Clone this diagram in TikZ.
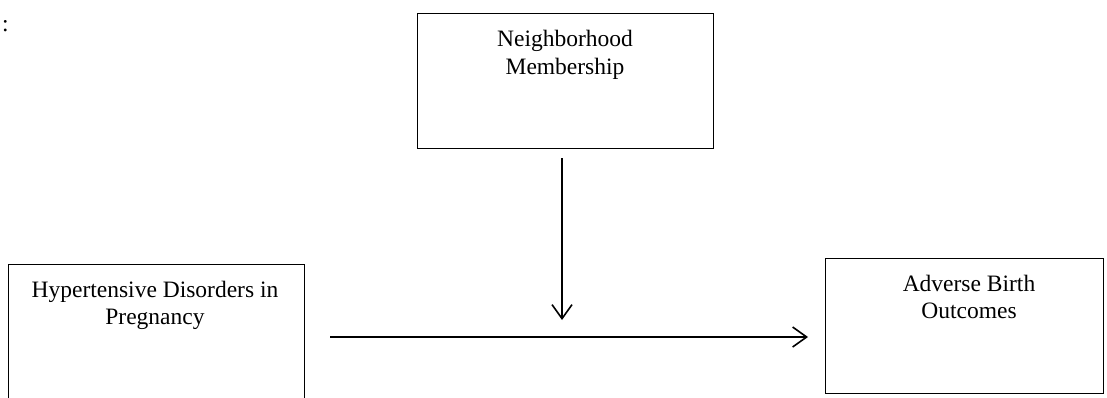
\documentclass[tikz,border=0pt]{standalone}
\usepackage{fontspec}
\setmainfont{Liberation Serif}
\usetikzlibrary{arrows.meta}
\begin{document}
\begin{tikzpicture}[x=1pt,y=-1pt,
  box/.style={draw, line width=0.9pt, inner sep=0pt, shape=rectangle},
  txt/.style={font=\fontsize{23.5}{27}\selectfont, anchor=base, inner sep=0pt},
  conn/.style={line width=1.6pt, -{Straight Barb[length=14pt,width=20pt,line width=1.6pt]}}]
\clip (0,0) rectangle (1107,397);
% colon
\node[txt, anchor=base west] (colon) at (2,31) {:};
% boxes
\node[box, minimum width=296pt, minimum height=135pt] (nm) at (565,80.5) {};
\node[box, minimum width=296pt, minimum height=150pt] (hdp) at (156,339) {};
\node[box, minimum width=278pt, minimum height=135pt] (abo) at (964,325.5) {};
% texts
\node[txt] (nm1) at (565,46.7) {Neighborhood};
\node[txt] (nm2) at (565,74) {Membership};
\node[txt] (hdp1) at (155,297.7) {Hypertensive Disorders in};
\node[txt] (hdp2) at (155,324) {Pregnancy};
\node[txt] (abo1) at (969,291.7) {Adverse Birth};
\node[txt] (abo2) at (969,318.3) {Outcomes};
% connectors
\coordinate (vs) at (562,158);
\coordinate (ve) at (562,320);
\coordinate (hs) at (330,337);
\coordinate (he) at (808,337);
\draw[conn] (vs) -- (ve);
\draw[conn] (hs) -- (he);
\end{tikzpicture}
\end{document}
